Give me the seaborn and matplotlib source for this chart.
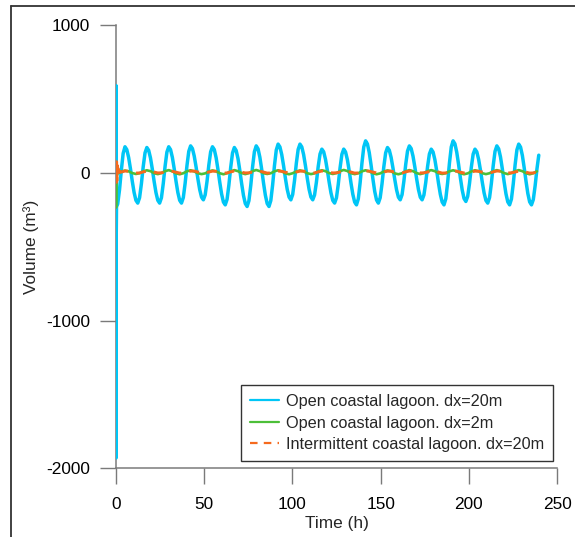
import numpy as np
import pandas as pd
import matplotlib
matplotlib.use("Agg")
import matplotlib.pyplot as plt
from matplotlib.lines import Line2D
import seaborn as sns

# ---------------------------------------------------------------------------
# Data: lagoon volume anomaly (m3) against simulated time (h)
# ---------------------------------------------------------------------------
series_names = [
    "Open coastal lagoon. dx=20m",
    "Open coastal lagoon. dx=2m",
    "Intermittent coastal lagoon. dx=20m",
]
series_colors = ["#00C6F6", "#4CBF38", "#F56A1E"]

x_ticks = [0, 50, 100, 150, 200, 250]
y_ticks = [-2000, -1000, 0, 1000]

# open lagoon, dx=20m: start-up transient then regular output
open20_spinup_t = [0.0, 0.04, 0.08, 0.15, 0.30]
open20_spinup_v = [0, 590, -1930, -420, -230]
open20_v = [
    -211, -116, 17, 131,
    176, 157, 104, 28, -57, -133, -186, -205, -169, -75, 41, 135,
    171, 152, 100, 25, -59, -134, -186, -205, -169, -73, 44, 140,
    176, 157, 104, 28, -57, -133, -186, -205, -168, -71, 48, 145,
    182, 164, 113, 40, -41, -114, -165, -183, -149, -59, 52, 142,
    176, 157, 102, 23, -64, -143, -198, -217, -180, -83, 37, 134,
    171, 151, 96, 16, -73, -153, -208, -228, -189, -86, 40, 143,
    182, 162, 105, 23, -69, -151, -208, -228, -188, -82, 48, 154,
    194, 175, 123, 48, -37, -112, -164, -183, -147, -53, 64, 158,
    194, 175, 123, 48, -37, -112, -164, -183, -150, -65, 42, 127,
    160, 142, 91, 18, -63, -136, -187, -205, -170, -79, 34, 125,
    160, 141, 89, 14, -71, -146, -198, -217, -176, -67, 66, 175,
    216, 195, 137, 52, -41, -126, -184, -205, -169, -75, 41, 135,
    171, 153, 104, 33, -45, -116, -165, -183, -148, -57, 56, 147,
    182, 164, 113, 40, -41, -114, -165, -183, -150, -65, 42, 127,
    160, 141, 89, 14, -71, -146, -198, -217, -176, -67, 66, 175,
    216, 196, 139, 57, -35, -117, -174, -194, -160, -72, 38, 126,
    160, 142, 91, 18, -63, -136, -187, -205, -168, -71, 48, 145,
    182, 162, 107, 27, -62, -142, -197, -217, -178, -75, 52, 155,
    194, 174, 117, 34, -57, -140, -197, -217, -181, -88, 26, 119,
]

# open lagoon, dx=2m
open2_spinup_t = [0.0, 0.05, 0.15, 0.35, 0.60]
open2_spinup_v = [0, -235, -80, -30, -12]
open2_v = [
    -5, 8, 15, 10, -2, -8,
    -3, 10, 17, 11, -3, -9,
    -2, 11, 18, 10, -4, -10,
    -3, 10, 17, 9, -3, -9,
    -4, 9, 16, 10, -3, -10,
    -3, 10, 18, 11, -2, -9,
    -2, 11, 19, 11, -3, -8,
    -3, 10, 17, 10, -4, -10,
    -3, 9, 16, 10, -3, -9,
    -4, 10, 17, 11, -2, -8,
    -2, 11, 19, 12, -3, -9,
    -3, 10, 17, 10, -3, -10,
    -4, 9, 16, 10, -4, -10,
    -3, 10, 18, 11, -2, -9,
    -2, 11, 18, 11, -3, -8,
    -3, 10, 17, 10, -3, -10,
    -4, 9, 17, 11, -3, -9,
    -3, 10, 18, 10, -2, -9,
    -2, 11, 18, 11, -3, -10,
    -3, 10,
]

# intermittent lagoon, dx=20m
inter20_spinup_t = [0.0, 0.10, 0.20, 0.35, 0.50, 0.70, 0.90, 1.15, 1.45, 1.80, 2.30]
inter20_spinup_v = [0, 90, -65, 75, -55, 50, -35, 30, -20, 15, 4]
inter20_v = [
    5, 12, 10, 4, -2,
    -1, 6, 11, 11, 5, -1,
    0, 5, 12, 10, 4, -2,
    -1, 6, 11, 12, 5, -1,
    0, 5, 11, 10, 5, -2,
    -1, 6, 12, 11, 4, -1,
    0, 5, 11, 11, 5, -2,
    -1, 6, 12, 10, 4, -1,
    0, 5, 11, 11, 5, -2,
    -1, 6, 12, 11, 4, -1,
    0, 5, 11, 10, 5, -2,
    -1, 6, 12, 11, 5, -1,
    0, 5, 11, 11, 4, -2,
    -1, 6, 12, 10, 5, -1,
    0, 5, 11, 11, 5, -2,
    -1, 6, 12, 11, 4, -1,
    0, 5, 11, 10, 5, -2,
    -1, 6, 12, 11, 5, -1,
    0, 5, 11, 11, 4, -2,
    -1, 6,
]

# output time grids (h)
dt_fine = 12.4 / 12.0
dt_coarse = 12.4 / 6.0
open20_t = 0.967 + dt_fine * np.arange(len(open20_v))
open2_t = 0.967 + dt_coarse * np.arange(len(open2_v))
inter20_t = 0.967 + dt_coarse * np.arange(1, len(inter20_v) + 1)


def frame(name, t_spin, v_spin, t, v):
    return pd.DataFrame({
        "Time (h)": np.concatenate([t_spin, t]),
        "Volume": np.concatenate([v_spin, v]).astype(float),
        "series": name,
    })


df = pd.concat([
    frame(series_names[0], open20_spinup_t, open20_spinup_v, open20_t, open20_v),
    frame(series_names[1], open2_spinup_t, open2_spinup_v, open2_t, open2_v),
    frame(series_names[2], inter20_spinup_t, inter20_spinup_v, inter20_t, inter20_v),
], ignore_index=True)

# ---------------------------------------------------------------------------
# Figure
# ---------------------------------------------------------------------------
sns.set_style("white")
plt.rcParams["font.family"] = ["Liberation Sans", "DejaVu Sans"]

fig = plt.figure(figsize=(5.75, 5.37), dpi=100)
ax = fig.add_axes([0.2017, 0.1279, 0.7670, 0.8255])

line_kw = [
    dict(linewidth=2.5),
    dict(linewidth=1.9),
    dict(linewidth=2.1, linestyle=(0, (3.4, 2.8))),
]
for name, color, kw in zip(series_names, series_colors, line_kw):
    sub = df[df["series"] == name]
    sns.lineplot(data=sub, x="Time (h)", y="Volume", ax=ax, color=color,
                 estimator=None, sort=False, label=name, **kw)

ax.set_xlim(0, 250)
ax.set_ylim(-2000, 1000)
ax.set_xticks(x_ticks)
ax.set_yticks(y_ticks)
ax.set_xticklabels([str(v) for v in x_ticks])
ax.set_yticklabels([str(v) for v in y_ticks])

for side in ("top", "right"):
    ax.spines[side].set_visible(False)
for side in ("left", "bottom"):
    ax.spines[side].set_color("#7a7a7a")
    ax.spines[side].set_linewidth(1.1)
    ax.spines[side].set_zorder(0.5)

ax.tick_params(axis="both", which="major", bottom=True, left=True,
               direction="out", length=11.5, width=1.0,
               color="#7a7a7a", labelsize=12.4, labelcolor="black")
ax.tick_params(axis="y", pad=7)
ax.tick_params(axis="x", pad=9)

ax.set_xlabel("Time (h)", fontsize=12.4, labelpad=3)
ax.set_ylabel("Volume (m³)", fontsize=12.4, labelpad=5)

leg = ax.legend(loc="lower right", bbox_to_anchor=(0.991, 0.0165),
                borderaxespad=0, frameon=True, fancybox=False, framealpha=1,
                edgecolor="#333333", fontsize=11.7, handlelength=1.8,
                handletextpad=0.42, borderpad=0.55, labelspacing=0.4)
leg.get_frame().set_linewidth(1.0)
for handle in leg.get_lines():
    handle.set_linewidth(1.6)

# outer panel border
fig.add_artist(Line2D([11 / 575, 1.0], [1 - 6 / 537, 1 - 6 / 537],
                      transform=fig.transFigure, color="#333333", linewidth=1.3))
fig.add_artist(Line2D([11 / 575, 11 / 575], [0.0, 1 - 6 / 537],
                      transform=fig.transFigure, color="#333333", linewidth=1.3))

fig.savefig("out.png", dpi=100, facecolor="white")
